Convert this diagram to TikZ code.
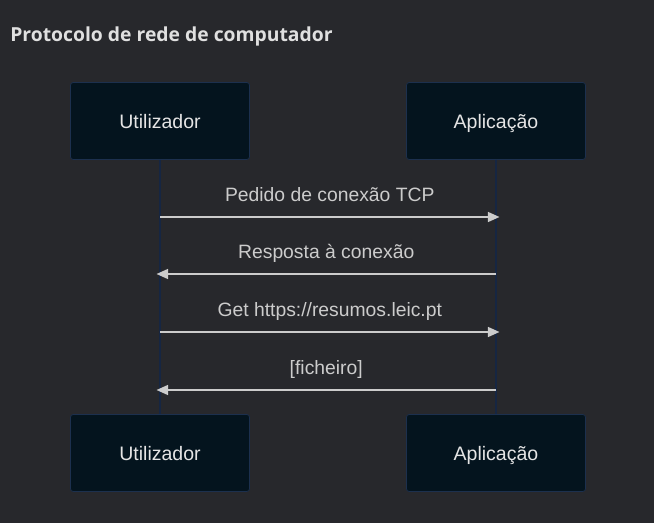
\documentclass[tikz,border=0pt]{standalone}
\usepackage{fontspec}
\setmainfont{Liberation Sans}
\newfontfamily\titlefont{Open Sans}
\usetikzlibrary{positioning,arrows.meta}
\definecolor{bg}{RGB}{39,40,44}
\definecolor{actorfill}{RGB}{4,20,30}
\definecolor{actorline}{RGB}{28,48,78}
\definecolor{lifeline}{RGB}{22,38,66}
\definecolor{msgline}{RGB}{204,204,204}
\tikzset{
  >={Triangle[length=6.6pt,width=5.6pt]},
  actor/.style ={draw=actorline, fill=actorfill, rounded corners=1.5pt,
                 minimum width=3.58cm, minimum height=1.54cm,
                 text height=1.8ex, text depth=0.2ex,
                 text=white!90!black, font=\fontsize{11.1}{13}\selectfont},
  life/.style  ={draw=lifeline, line width=0.9pt},
  msg/.style   ={draw=msgline, line width=1.1pt, ->},
  msglabel/.style={text=msgline, font=\fontsize{11}{13}\selectfont,
                   anchor=base, yshift=9pt},
}

\begin{document}
\begin{tikzpicture}[x=0.02cm,y=-0.02cm]
  \fill[bg] (0,0) rectangle (654,523);
  \useasboundingbox (0,0) rectangle (654,523);

  % title
  \node[anchor=west, inner sep=0pt, text=white!88!black, font=\titlefont\bfseries\fontsize{11}{13}\selectfont]
    (title) at (10,36) {Protocolo de rede de computador};

  % actors
  \node[actor] (utop) at (160,121) {Utilizador};
  \node[actor] (atop) at (496,121) {Aplicação};
  \node[actor] (ubot) at (160,453) {Utilizador};
  \node[actor] (abot) at (496,453) {Aplicação};

  % lifelines
  \draw[life] (utop) -- (ubot);
  \draw[life] (atop) -- (abot);

  % messages
  \coordinate (m1) at (0,217);
  \coordinate (m2) at (0,274);
  \coordinate (m3) at (0,332);
  \coordinate (m4) at (0,390);
  \draw[msg] (utop |- m1) -- ([xshift=2] atop |- m1)
    node[msglabel, midway] {Pedido de conexão TCP};
  \draw[msg] (atop |- m2) -- ([xshift=-2] utop |- m2)
    node[msglabel, midway] {Resposta à conexão};
  \draw[msg] (utop |- m3) -- ([xshift=2] atop |- m3)
    node[msglabel, midway] {Get https://resumos.leic.pt};
  \draw[msg] (atop |- m4) -- ([xshift=-2] utop |- m4)
    node[msglabel, midway] {[ficheiro]};
\end{tikzpicture}
\end{document}
